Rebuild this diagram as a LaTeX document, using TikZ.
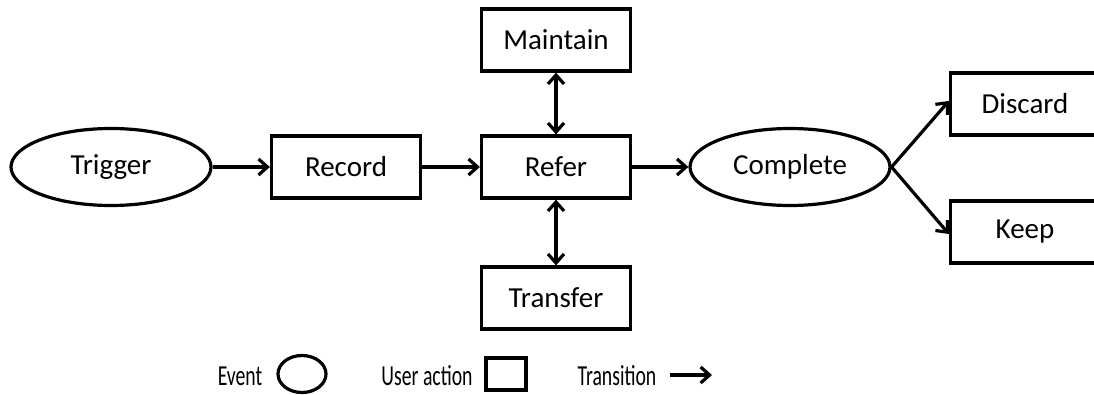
\documentclass[tikz,border=0pt]{standalone}
\usepackage{fontspec}
\usepackage{graphicx}
\setmainfont{Carlito}
\usetikzlibrary{arrows.meta,shapes.geometric}
\begin{document}
\begin{tikzpicture}[x=1pt,y=-1pt,
  every node/.style={font=\fontsize{29}{32}\selectfont},
  actbox/.style={draw,line width=3.2pt,rectangle,minimum width=149pt,minimum height=62pt,inner sep=0pt},
  evt/.style={draw,line width=3.2pt,ellipse,minimum width=200pt,minimum height=77pt,inner sep=0pt},
  tip/.style={},
  trans/.style={line width=3.2pt,-{Straight Barb[length=9pt,width=16pt,line width=3.2pt]}},
  both/.style={line width=3.2pt,{Straight Barb[length=9pt,width=16pt,line width=3.2pt]}-{Straight Barb[length=9pt,width=16pt,line width=3.2pt]}},
  legtxt/.style={font=\fontsize{29}{32}\selectfont}
]
\useasboundingbox (0,0) rectangle (1094,395);

% main flow
\node[evt] (trigger) at (111,167) {Trigger};
\node[actbox] (record) at (346,167) {Record};
\node[actbox] (refer) at (556,167) {Refer};
\node[actbox] (maintain) at (556,40) {Maintain};
\node[actbox] (transfer) at (556,298) {Transfer};
\node[evt] (complete) at (790,167) {Complete};
\node[actbox] (discard) at (1025,104) {Discard};
\node[actbox] (keep) at (1025,232) {Keep};

\draw[trans] (trigger.east) -- (record.west);
\draw[trans] (record.east) -- (refer.west);
\draw[trans] (refer.east) -- (complete.west);
\draw[both] (maintain.south) -- (refer.north);
\draw[both] (refer.south) -- (transfer.north);
\draw[trans] (complete.east) -- ([yshift=3pt]discard.west);
\draw[trans] (complete.east) -- ([yshift=-2pt]keep.west);

% legend
\node[legtxt] (lgevent) at (240,376) {\scalebox{0.68}[1]{Event}};
\node[draw,line width=3.2pt,ellipse,minimum width=48pt,minimum height=37pt,inner sep=0pt] (lgellipse) at (302,374) {};
\node[legtxt] (lguser) at (427,376) {\scalebox{0.68}[1]{User action}};
\node[draw,line width=3.2pt,rectangle,minimum width=40pt,minimum height=32pt,inner sep=0pt] (lgbox) at (506,374) {};
\node[legtxt] (lgtrans) at (617,376) {\scalebox{0.68}[1]{Transition}};
\coordinate (lga) at (670,375);
\coordinate (lgb) at (712,375);
\draw[trans] (lga) -- (lgb);
\end{tikzpicture}
\end{document}
